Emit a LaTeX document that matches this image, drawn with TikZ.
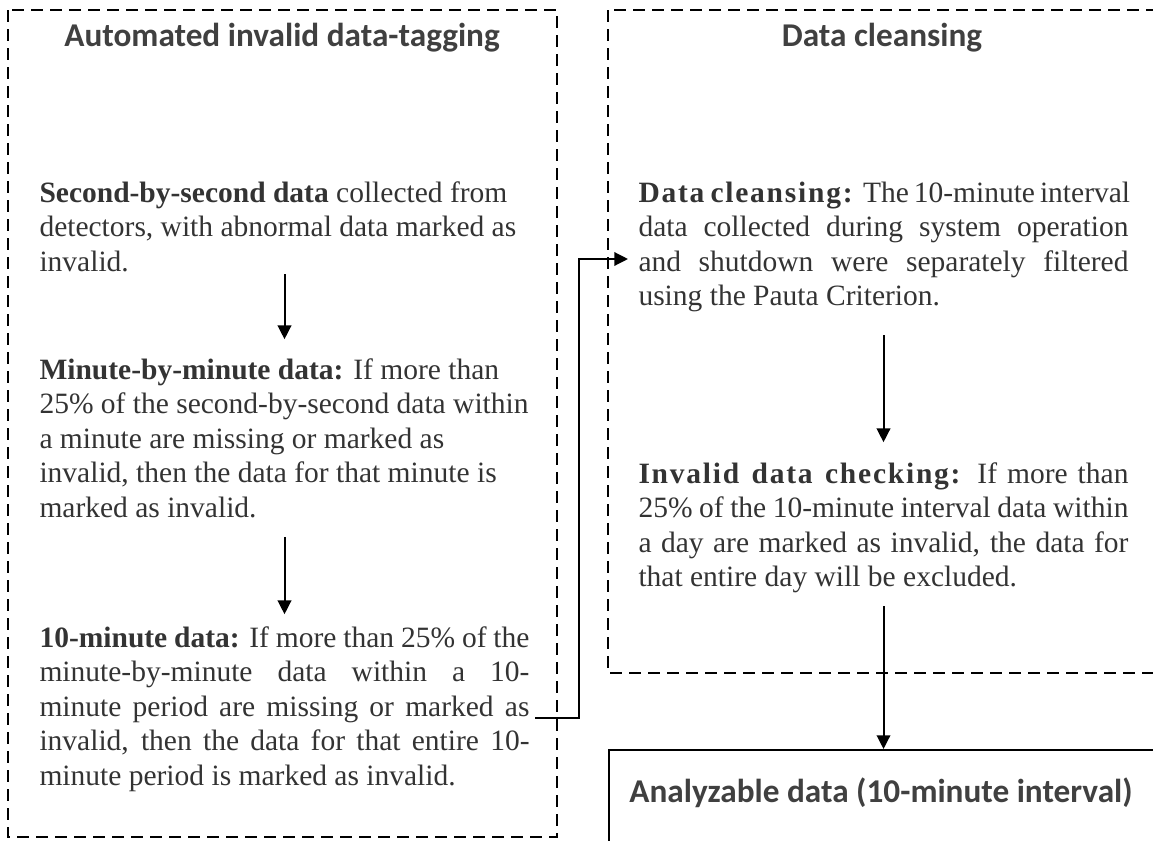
\documentclass[tikz,border=0pt]{standalone}
\usepackage{fontspec}
\setmainfont{Liberation Serif}
\newfontfamily\headfont{Carlito}
\usetikzlibrary{arrows.meta}
\definecolor{bodyink}{HTML}{333333}
\definecolor{headink}{HTML}{404040}
\hyphenpenalty=10000
\exhyphenpenalty=10000
\tikzstyle{panel}=[
	draw=black,
	line width=0.6pt,
	dash pattern=on 4.6pt off 3pt]
\tikzstyle{head}=[
	inner sep=0,
	text=headink,
	font=\headfont\bfseries\fontsize{13.3}{15}\selectfont]
\tikzstyle{para}=[
	anchor=base west,
	inner sep=0,
	text width=196pt,
	align=justify,
	text=bodyink,
	font=\fontsize{11.8}{13.8}\selectfont]
\tikzstyle{outbox}=[
	rectangle,
	draw=black,
	line width=0.6pt,
	anchor=north west,
	minimum width=222.8pt,
	minimum height=40.4pt]
\tikzstyle{flow}=[
	->,
	line width=0.8pt]
\newcommand{\spaced}[1]{\textbf{\addfontfeatures{LetterSpace=6}#1}}

\begin{document}
\begin{tikzpicture}[x=0.4pt,y=-0.4pt,>={Triangle[length=5.5pt,width=5.4pt]}]
	\useasboundingbox (0,0) rectangle (1153,840);
	\clip (0,0) rectangle (1153,840);
	% the two stages
	\draw[panel] (8,10) rectangle (557,837);
	\draw[panel] (608,10) rectangle (1170,673);
	\node[head]	(taghead)	at (282,38)	{Automated invalid data-tagging};
	\node[head]	(cleanhead)	at (882,38)	{Data cleansing};
	% left column
	\node[para]	(sec)	at (39,202)	{\textbf{Second-by-second data} collected from\newline
		detectors, with abnormal data marked as\newline
		invalid.};
	\node[para]	(minute)	at (39,379)	{\textbf{Minute-by-minute data:} If more than\newline
		25\% of the second-by-second data within\newline
		a minute are missing or marked as\newline
		invalid, then the data for that minute is\newline
		marked as invalid.};
	\node[para]	(tenmin)	at (39,647)	{\textbf{10-minute data:} If more than 25\% of the\linebreak
		minute-by-minute data within a 10-\linebreak
		minute period are missing or marked as\linebreak
		invalid, then the data for that entire 10-\linebreak
		minute period is marked as invalid.};
	\draw[flow,shorten <=1pt,shorten >=7.4pt]	(sec) -- (minute);
	\draw[flow,shorten <=7.6pt,shorten >=4.6pt]	(minute) -- (tenmin);
	% right column
	\node[para]	(clean)	at (638,202)	{\spaced{Data cleansing:} The 10-minute interval\linebreak
		data collected during system operation\linebreak
		and shutdown were separately filtered\linebreak
		using the Pauta Criterion.};
	\node[para]	(check)	at (638,483)	{\spaced{Invalid data checking:} If more than\linebreak
		25\% of the 10-minute interval data within\linebreak
		a day are marked as invalid, the data for\linebreak
		that entire day will be excluded.};
	\draw[flow,shorten <=9.2pt,shorten >=7.8pt]	(clean) -- (check);
	% hand-over between the stages
	\coordinate (tap)	at (535,718);
	\coordinate (bend)	at (579,259);
	\draw[flow,shorten >=4pt]	(tap) -| (bend) -- (clean.west |- bend);
	% result
	\node[outbox]	(usable)	at (608,749)	{};
	\node[head]	(usablehead)	at (881,793)	{Analyzable data (10-minute interval)};
	\draw[flow,shorten <=5.2pt]	(check.south) -- (check.south |- usable.north);
\end{tikzpicture}
\end{document}
